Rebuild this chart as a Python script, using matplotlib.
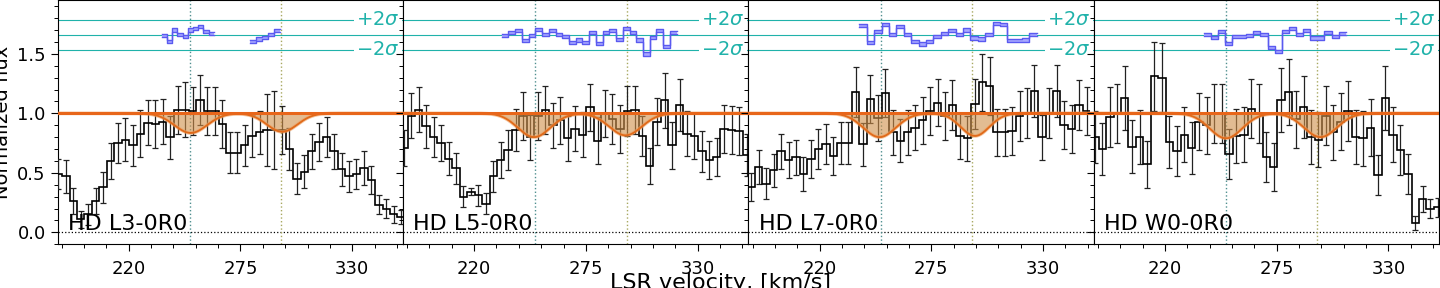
import numpy as np
import matplotlib
matplotlib.use("Agg")
import matplotlib.pyplot as plt
from matplotlib.ticker import MultipleLocator

# ---------------- data ----------------
labels = ["HD L3-0R0", "HD L5-0R0", "HD L7-0R0", "HD W0-0R0"]
bin_width = 3.667

p1_v0 = 185.4
p1_flux = [0.49, 0.47, 0.26, 0.11, 0.15, 0.26, 0.38, 0.60, 0.75, 0.78, 0.73, 0.83, 0.92, 0.91,
           0.93, 0.80, 1.03, 1.03, 1.02, 1.11, 1.02, 1.02, 0.91, 0.67, 0.67, 0.73, 0.81, 0.84,
           0.86, 0.86, 0.86, 0.70, 0.45, 0.51, 0.68, 0.76, 0.80, 0.68, 0.53, 0.47, 0.49, 0.54,
           0.44, 0.23, 0.20, 0.15, 0.13, 0.06]
p1_err = [0.13, 0.14, 0.11, 0.07, 0.09, 0.11, 0.13, 0.15, 0.17, 0.18, 0.17, 0.20, 0.19, 0.20,
          0.19, 0.18, 0.20, 0.23, 0.20, 0.21, 0.20, 0.20, 0.20, 0.17, 0.17, 0.17, 0.18, 0.18,
          0.30, 0.33, 0.20, 0.18, 0.13, 0.14, 0.15, 0.16, 0.17, 0.15, 0.14, 0.13, 0.13, 0.14,
          0.12, 0.08, 0.08, 0.07, 0.06, 0.05]

p2_v0 = 185.4
p2_flux = [0.71, 0.98, 1.03, 0.89, 0.80, 0.75, 0.62, 0.54, 0.30, 0.34, 0.31, 0.24, 0.47, 0.61,
           0.69, 0.86, 0.98, 0.80, 0.98, 1.03, 0.90, 0.94, 0.79, 0.87, 0.82, 1.05, 0.77, 1.00,
           0.95, 0.87, 1.02, 1.03, 0.81, 0.56, 0.93, 1.11, 0.73, 1.07, 0.83, 0.81, 0.68, 0.61,
           0.63, 0.87, 0.86, 0.85, 0.65]
p2_err = [0.15, 0.19, 0.19, 0.18, 0.17, 0.15, 0.14, 0.13, 0.09, 0.03, 0.09, 0.09, 0.13, 0.15,
          0.17, 0.18, 0.20, 0.19, 0.20, 0.20, 0.19, 0.20, 0.19, 0.19, 0.19, 0.20, 0.20, 0.20,
          0.21, 0.20, 0.21, 0.20, 0.17, 0.15, 0.20, 0.23, 0.20, 0.22, 0.19, 0.19, 0.17, 0.16,
          0.16, 0.20, 0.20, 0.20, 0.18]

p3_v0 = 186.4
p3_flux = [0.38, 0.55, 0.41, 0.52, 0.68, 0.61, 0.63, 0.49, 0.62, 0.70, 0.74, 0.64, 0.75, 0.75,
           1.18, 0.74, 1.12, 0.96, 1.17, 0.84, 0.77, 0.84, 0.88, 0.94, 1.02, 1.09, 0.98, 1.07,
           0.81, 0.79, 1.08, 1.26, 1.23, 0.84, 0.84, 0.85, 0.98, 1.00, 1.19, 0.80, 1.00, 1.19,
           0.90, 0.87, 1.07, 1.02]
p3_err = [0.12, 0.14, 0.13, 0.14, 0.15, 0.15, 0.15, 0.14, 0.16, 0.17, 0.17, 0.16, 0.18, 0.18,
          0.21, 0.18, 0.20, 0.19, 0.20, 0.19, 0.18, 0.19, 0.19, 0.20, 0.20, 0.20, 0.20, 0.21,
          0.19, 0.19, 0.21, 0.24, 0.24, 0.20, 0.20, 0.20, 0.21, 0.21, 0.22, 0.19, 0.21, 0.22,
          0.20, 0.20, 0.21, 0.20]

p4_v0 = 185.5
p4_flux = [0.80, 0.70, 0.97, 1.00, 1.13, 0.72, 0.80, 0.57, 1.31, 1.30, 0.76, 0.68, 0.82, 0.71,
           0.93, 0.90, 1.00, 1.00, 0.66, 0.81, 0.82, 1.04, 1.00, 0.63, 0.55, 1.11, 1.18, 0.95,
           1.05, 0.80, 0.78, 0.98, 0.84, 0.93, 1.02, 0.80, 0.79, 0.88, 0.48, 1.13, 0.82, 0.69,
           0.49, 0.08, 0.28, 0.20, 0.21]
p4_err = [0.22, 0.22, 0.25, 0.25, 0.27, 0.22, 0.23, 0.20, 0.29, 0.29, 0.22, 0.21, 0.23, 0.22,
          0.24, 0.24, 0.25, 0.25, 0.21, 0.23, 0.23, 0.25, 0.25, 0.21, 0.20, 0.27, 0.28, 0.24,
          0.26, 0.23, 0.23, 0.25, 0.23, 0.24, 0.25, 0.23, 0.23, 0.24, 0.17, 0.27, 0.23, 0.21,
          0.17, 0.06, 0.11, 0.08, 0.08]

# model absorption components: centre [km/s], depth, gaussian width [km/s]
p1_model = [(250.5, 0.165, 8.0), (295.5, 0.155, 7.5)]
p2_model = [(249.5, 0.20, 8.0), (294.5, 0.185, 8.0)]
p3_model = [(249.5, 0.20, 8.0), (296.5, 0.19, 7.0)]
p4_model = [(250.0, 0.21, 8.0), (296.5, 0.20, 8.0)]

# upper blue step curves: (start edge, step width, values)
p1_blue = [(236.2, 2.57, [1.652, 1.605, 1.700, 1.666, 1.644, 1.700, 1.716, 1.727, 1.688, 1.674]),
           (279.9, 2.96, [1.605, 1.625, 1.638, 1.666, 1.694])]
p2_blue = [(233.6, 3.31, [1.652, 1.680, 1.694, 1.610, 1.652, 1.708, 1.666, 1.694, 1.666, 1.644,
                          1.596, 1.616, 1.596, 1.680, 1.588, 1.680, 1.694, 1.624, 1.716, 1.680,
                          1.616, 1.499, 1.638, 1.694, 1.560, 1.680])]
p3_blue = [(239.6, 3.64, [1.736, 1.596, 1.688, 1.744, 1.666, 1.727, 1.666, 1.605, 1.583, 1.605,
                          1.644, 1.672, 1.694, 1.666, 1.700, 1.633, 1.625, 1.661, 1.756, 1.744,
                          1.610, 1.610, 1.616, 1.666])]
p4_blue = [(239.0, 3.50, [1.661, 1.638, 1.688, 1.588, 1.644, 1.644, 1.652, 1.680, 1.666, 1.555,
                          1.521, 1.688, 1.716, 1.666, 1.694, 1.633, 1.633, 1.680, 1.644, 1.672])]

sig_center = 1.66
sig_plus = 1.786
sig_minus = 1.533
vlines = [250.0, 295.0]
vline_colors = ["#4f8f8f", "#a8a860"]

panels = [
    (p1_v0, p1_flux, p1_err, p1_model, p1_blue),
    (p2_v0, p2_flux, p2_err, p2_model, p2_blue),
    (p3_v0, p3_flux, p3_err, p3_model, p3_blue),
    (p4_v0, p4_flux, p4_err, p4_model, p4_blue),
]

# ---------------- figure ----------------
fig, axes = plt.subplots(1, 4, figsize=(14.4, 2.88), dpi=100, sharey=True)
fig.subplots_adjust(left=0.040, right=0.9995, top=0.999, bottom=0.152, wspace=0.0)

teal = "#20b2aa"
blue_edge = "#5a5af0"
blue_fill = "#a8a8ff"

for ax, label, (v0, flux, err, model, blue) in zip(axes, labels, panels):
    flux = np.asarray(flux)
    err = np.asarray(err)
    n = len(flux)
    centers = v0 + bin_width * np.arange(n)
    edges = np.concatenate([centers - bin_width / 2, [centers[-1] + bin_width / 2]])

    # reference lines
    ax.axhline(0.0, color="k", ls=":", lw=0.9, zorder=1)
    for vl, c in zip(vlines, vline_colors):
        ax.axvline(vl, color=c, ls=":", lw=1.0, zorder=1)
    for yv in (sig_plus, sig_center, sig_minus):
        ax.axhline(yv, color=teal, lw=0.8, zorder=1)

    # data
    ax.errorbar(centers, flux, yerr=err, fmt="none", ecolor="#222222",
                elinewidth=0.9, capsize=2.0, capthick=0.9, zorder=3)
    ax.stairs(flux, edges, baseline=None, color="k", lw=1.2, zorder=4)

    # model
    vv = np.linspace(183, 357, 800)
    prof = np.ones_like(vv)
    for (c, d, s) in model:
        prof = prof - d * np.exp(-0.5 * ((vv - c) / s) ** 2)
    ax.fill_between(vv, prof, 1.0, color="#d0904a", alpha=0.6, lw=0, zorder=5)
    ax.plot(vv, prof, color="#f0a060", lw=2.6, alpha=0.6, zorder=5)
    ax.plot(vv, prof, color="#e06a1a", lw=1.3, zorder=6)
    ax.axhline(1.0, color="#e8661a", lw=2.2, zorder=6)

    # blue step curve with band
    for (b0, bw, bvals) in blue:
        bvals = np.asarray(bvals)
        bed = b0 + bw * np.arange(len(bvals) + 1)
        xs = np.repeat(bed, 2)[1:-1]
        ys = np.repeat(bvals, 2)
        ax.fill_between(xs, ys - 0.013, ys + 0.013, color=blue_fill, lw=0, zorder=3)
        ax.plot(xs, ys - 0.013, color=blue_edge, lw=1.0, zorder=4)
        ax.plot(xs, ys + 0.013, color=blue_edge, lw=1.0, zorder=4)

    # sigma labels
    for yv, txt in ((sig_plus, r"$+2\sigma$"), (sig_minus, r"$-2\sigma$")):
        ax.text(0.99, yv, txt, transform=ax.get_yaxis_transform(), ha="right", va="center",
                color=teal, fontsize=14,
                bbox=dict(facecolor="white", edgecolor="none", pad=1.5), zorder=7)

    ax.text(0.03, 0.04, label, transform=ax.transAxes, fontsize=16, ha="left", va="bottom",
            zorder=8)

    ax.set_xlim(185, 355)
    ax.set_ylim(-0.1, 1.95)
    ax.xaxis.set_major_locator(MultipleLocator(55))
    ax.xaxis.set_minor_locator(MultipleLocator(11))
    ax.yaxis.set_major_locator(MultipleLocator(0.5))
    ax.yaxis.set_minor_locator(MultipleLocator(0.1))
    ax.tick_params(axis="both", which="major", labelsize=13, length=5, width=0.8, direction="out")
    ax.tick_params(axis="x", which="major", pad=6)
    ax.tick_params(axis="both", which="minor", length=3, width=0.7, direction="out")
    for sp in ax.spines.values():
        sp.set_linewidth(0.8)

axes[0].set_ylabel("Normalized flux", fontsize=14, labelpad=4)
axes[0].set_yticks([0.0, 0.5, 1.0, 1.5])
axes[0].set_yticklabels(["0.0", "0.5", "1.0", "1.5"])
fig.text(0.5, -0.004, "LSR velocity, [km/s]", ha="center", va="baseline", fontsize=16)

fig.savefig("out.png", dpi=100)
